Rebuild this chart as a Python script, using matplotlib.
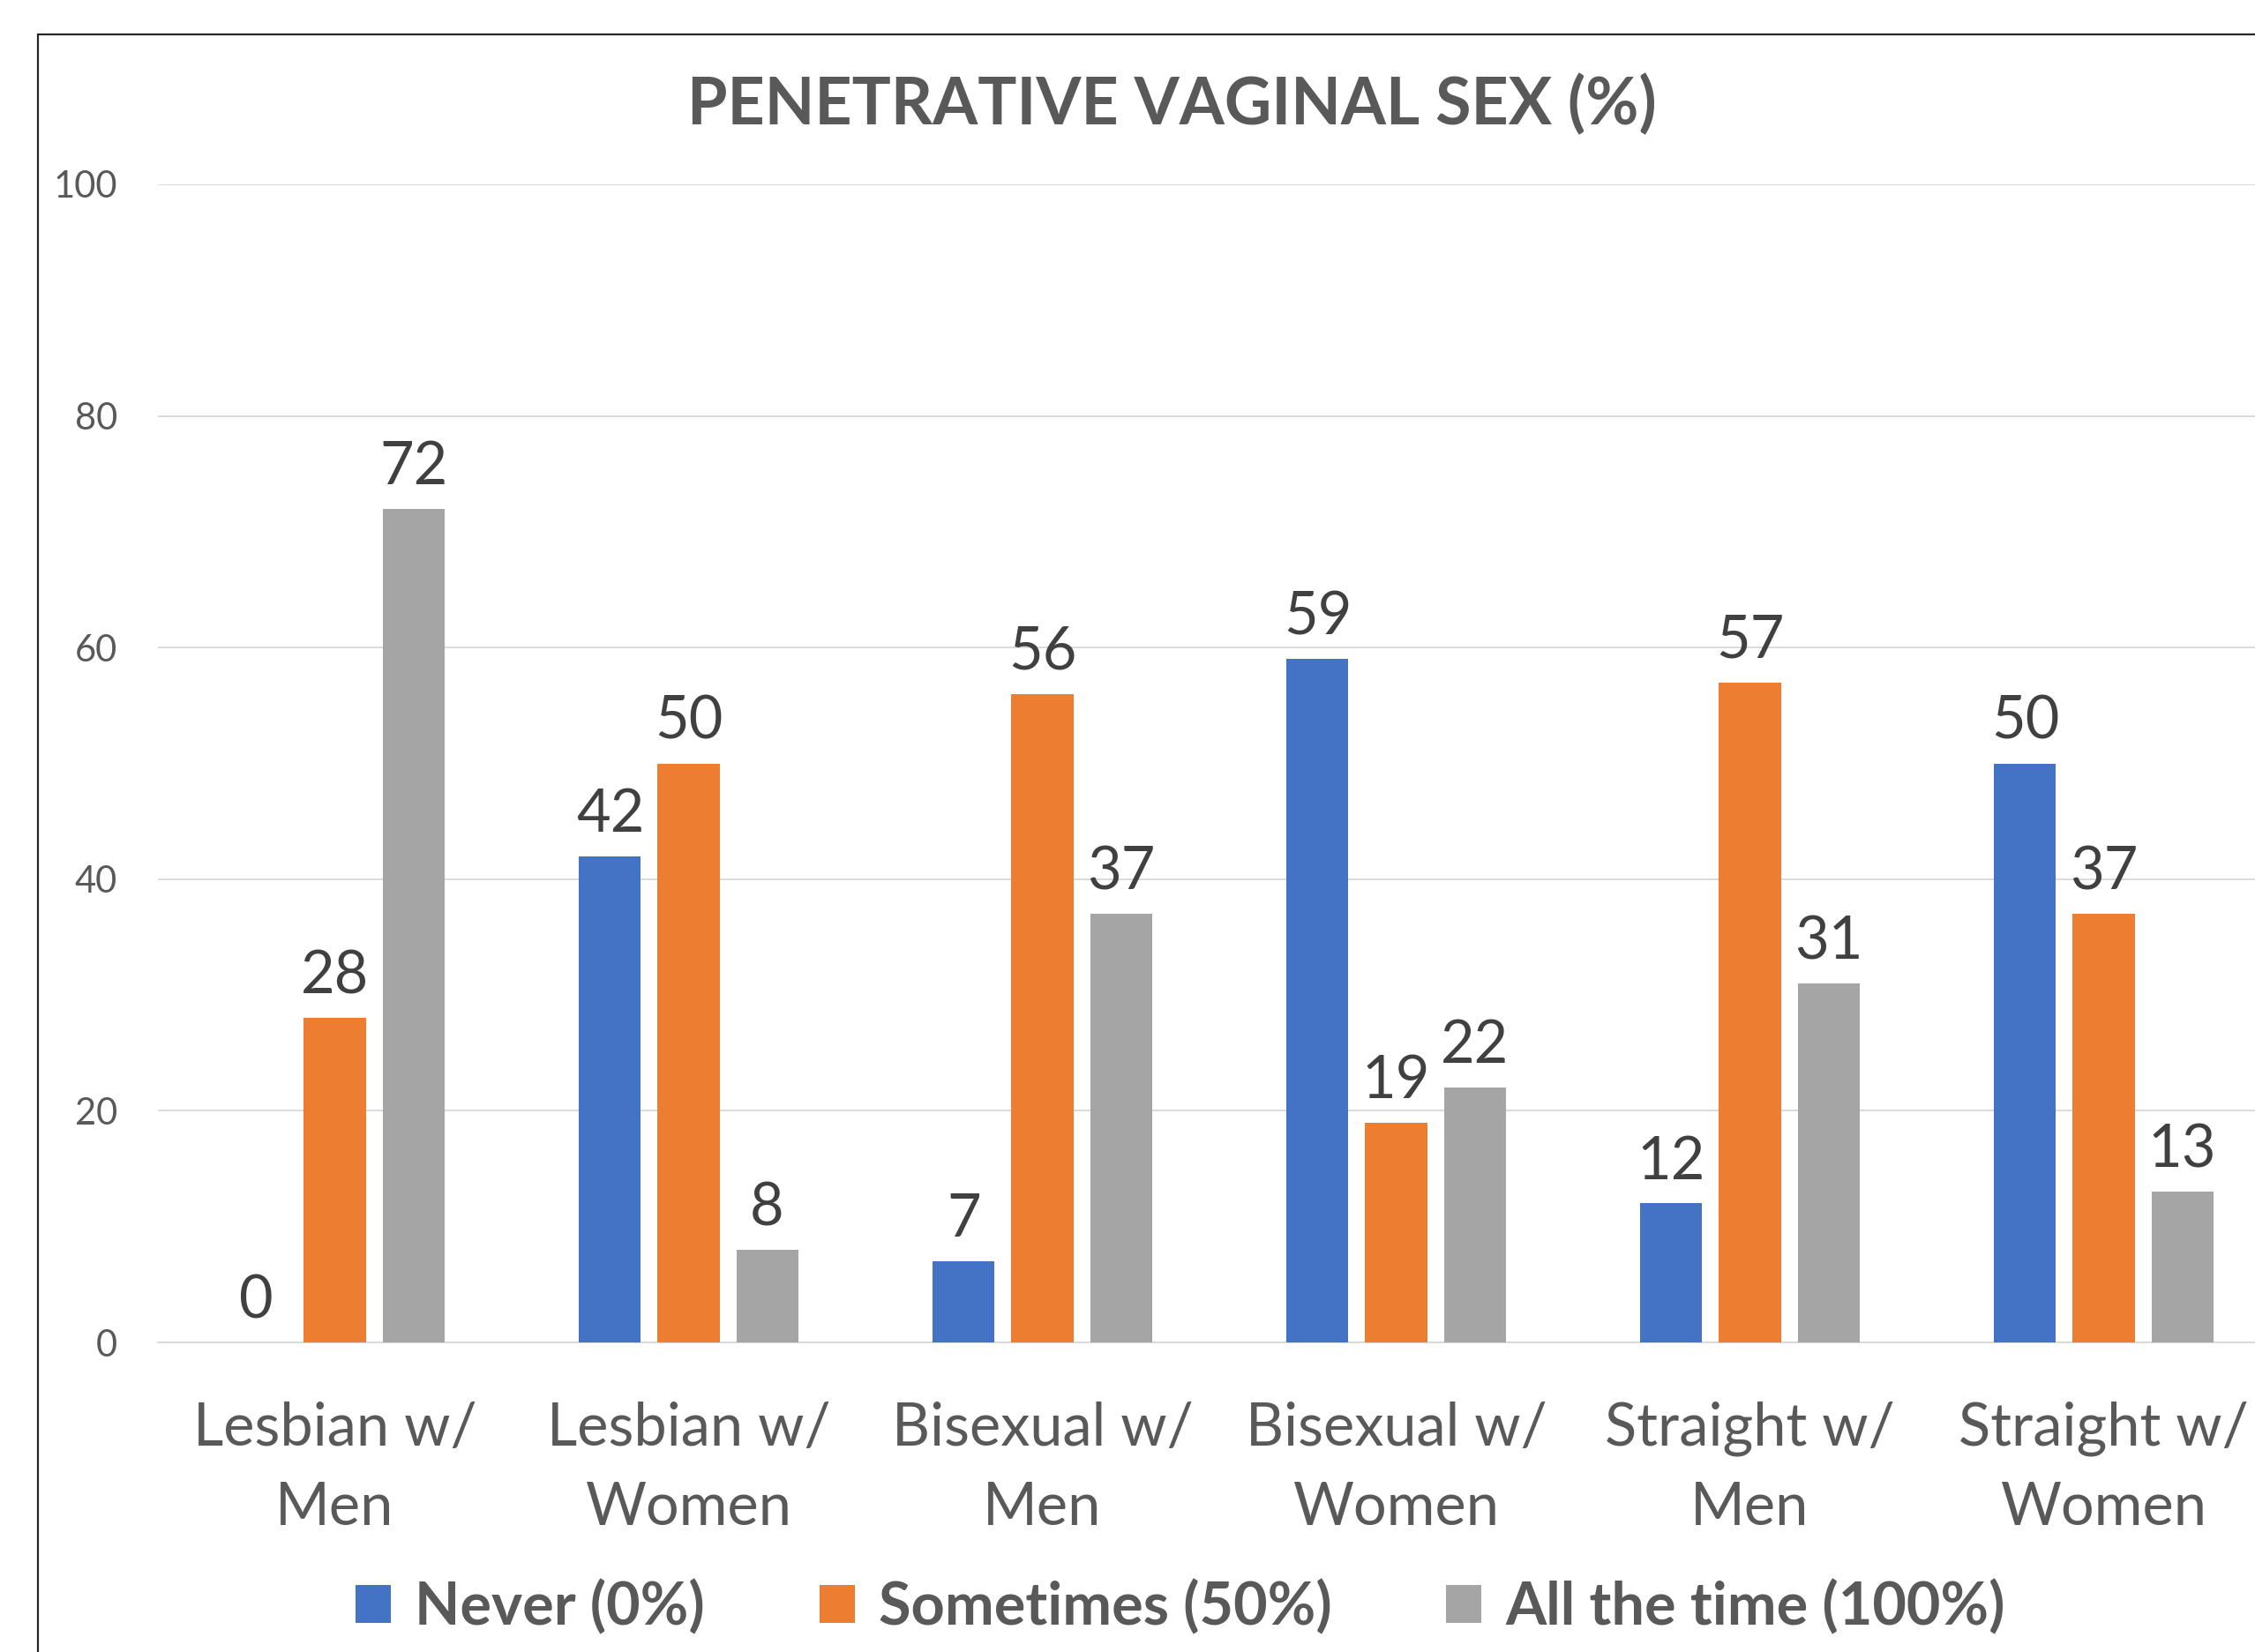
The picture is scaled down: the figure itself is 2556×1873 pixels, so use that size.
import matplotlib
matplotlib.use("Agg")
import matplotlib.pyplot as plt
from matplotlib.patches import Patch, Rectangle
import numpy as np

plt.rcParams['font.family'] = ['Lato', 'DejaVu Sans']

# data
categories = ["Lesbian w/\nMen", "Lesbian w/\nWomen", "Bisexual w/\nMen",
              "Bisexual w/\nWomen", "Straight w/\nMen", "Straight w/\nWomen"]
series_names = ["Never (0%)", "Sometimes (50%)", "All the time (100%)"]
never = [0, 42, 7, 59, 12, 50]
sometimes = [28, 50, 56, 19, 57, 37]
all_time = [72, 8, 37, 22, 31, 13]
yticks = [0, 20, 40, 60, 80, 100]

colors = ['#4472C4', '#ED7D31', '#A5A5A5']
txt_grey = '#595959'

W, H = 2556, 1873
fig = plt.figure(figsize=(W / 100, H / 100), dpi=100)
fig.patch.set_facecolor('white')

# plot area (runs past the right edge, like the cropped original)
left, right = 179 / W, 2585 / W
bottom, top = (H - 1522) / H, (H - 209) / H
ax = fig.add_axes([left, bottom, right - left, top - bottom])

x = np.arange(len(categories))
width = 0.1746
step = 0.222
for k, (vals, c) in enumerate(zip([never, sometimes, all_time], colors)):
    pos = x + (k - 1) * step
    ax.bar(pos, vals, width=width, color=c, zorder=3)
    for p, v in zip(pos, vals):
        ax.annotate(str(v), (p, v), xytext=(0, 20), textcoords='offset points',
                    ha='center', va='baseline', fontsize=48, color='#404040')

ax.set_xlim(-0.5, len(categories) - 0.5)
ax.set_ylim(0, 100)
ax.set_yticks(yticks)
ax.yaxis.grid(True, color='#D9D9D9', linewidth=1.4, zorder=0)
ax.set_axisbelow(True)
for s in ['top', 'right', 'left']:
    ax.spines[s].set_visible(False)
ax.spines['bottom'].set_color('#D9D9D9')
ax.spines['bottom'].set_linewidth(1.4)

ax.set_xticks(x)
ax.set_xticklabels(categories, fontsize=48, color=txt_grey, linespacing=1.56)
ax.tick_params(axis='x', length=0, pad=48)
ax.tick_params(axis='y', length=0, pad=33, labelsize=30, labelcolor=txt_grey)

# chart border
fig.patches.append(Rectangle((43 / W, -0.1), 1.2, (H - 39) / H + 0.1,
                             transform=fig.transFigure, fill=False,
                             edgecolor='#262626', linewidth=1.6))

fig.text(1328 / W, 1 - 141 / H, "PENETRATIVE VAGINAL SEX (%)", ha='center',
         va='baseline', fontsize=53, fontweight='bold', color=txt_grey)

handles = [Patch(facecolor=c, edgecolor='none') for c in colors]
fig.legend(handles, series_names, loc='center', bbox_to_anchor=(1338 / W, 0.027),
           ncol=3, frameon=False, handlelength=0.6, handleheight=0.6,
           handletextpad=0.4, columnspacing=1.95,
           prop={'size': 48, 'weight': 'bold'}, labelcolor=txt_grey)

fig.savefig("out.png", dpi=100)
